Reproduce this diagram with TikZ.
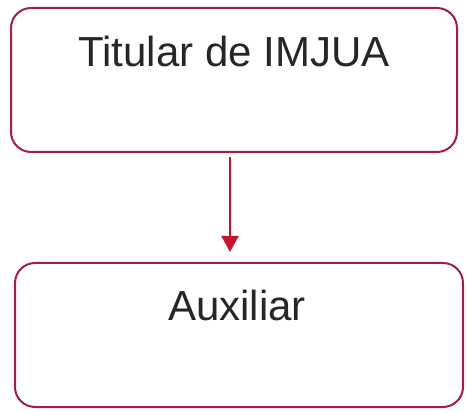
\documentclass[tikz,border=0pt]{standalone}
\usepackage{fontspec}
\setmainfont{Liberation Sans}
\usetikzlibrary{positioning}
\usetikzlibrary{arrows.meta}
\definecolor{boxred}{rgb}{0.62, 0.13, 0.25}
\definecolor{arrowred}{rgb}{0.78, 0.08, 0.18}
\definecolor{textgray}{rgb}{0.15, 0.15, 0.15}

\begin{document}
\begin{tikzpicture}[x=1pt,y=1pt,
		box/.style={draw=boxred, line width=2pt, rounded corners=20pt, minimum width=446pt, minimum height=144pt, inner sep=0pt},
		lbl/.style={text=textgray, font=\fontsize{42}{46}\selectfont, anchor=base},
		link/.style={draw=arrowred, line width=2.4pt, -{Triangle[length=16pt,width=17pt]}}]
	\useasboundingbox (0,0) rectangle (467,-412);

	\node[box] (titular) at (234,-80) {};
	\node[box, minimum width=448pt, below=109pt of titular, xshift=5pt] (aux) {};

	\node[lbl] (titulartext) at ([yshift=-60pt]titular.north) {Titular de IMJUA};
	\node[lbl] (auxtext) at ([xshift=-2pt,yshift=-58pt]aux.north) {Auxiliar};

	\draw[link] ([xshift=-4pt,yshift=-4pt]titular.south) -- ([xshift=-9pt,yshift=10pt]aux.north);
\end{tikzpicture}
\end{document}
